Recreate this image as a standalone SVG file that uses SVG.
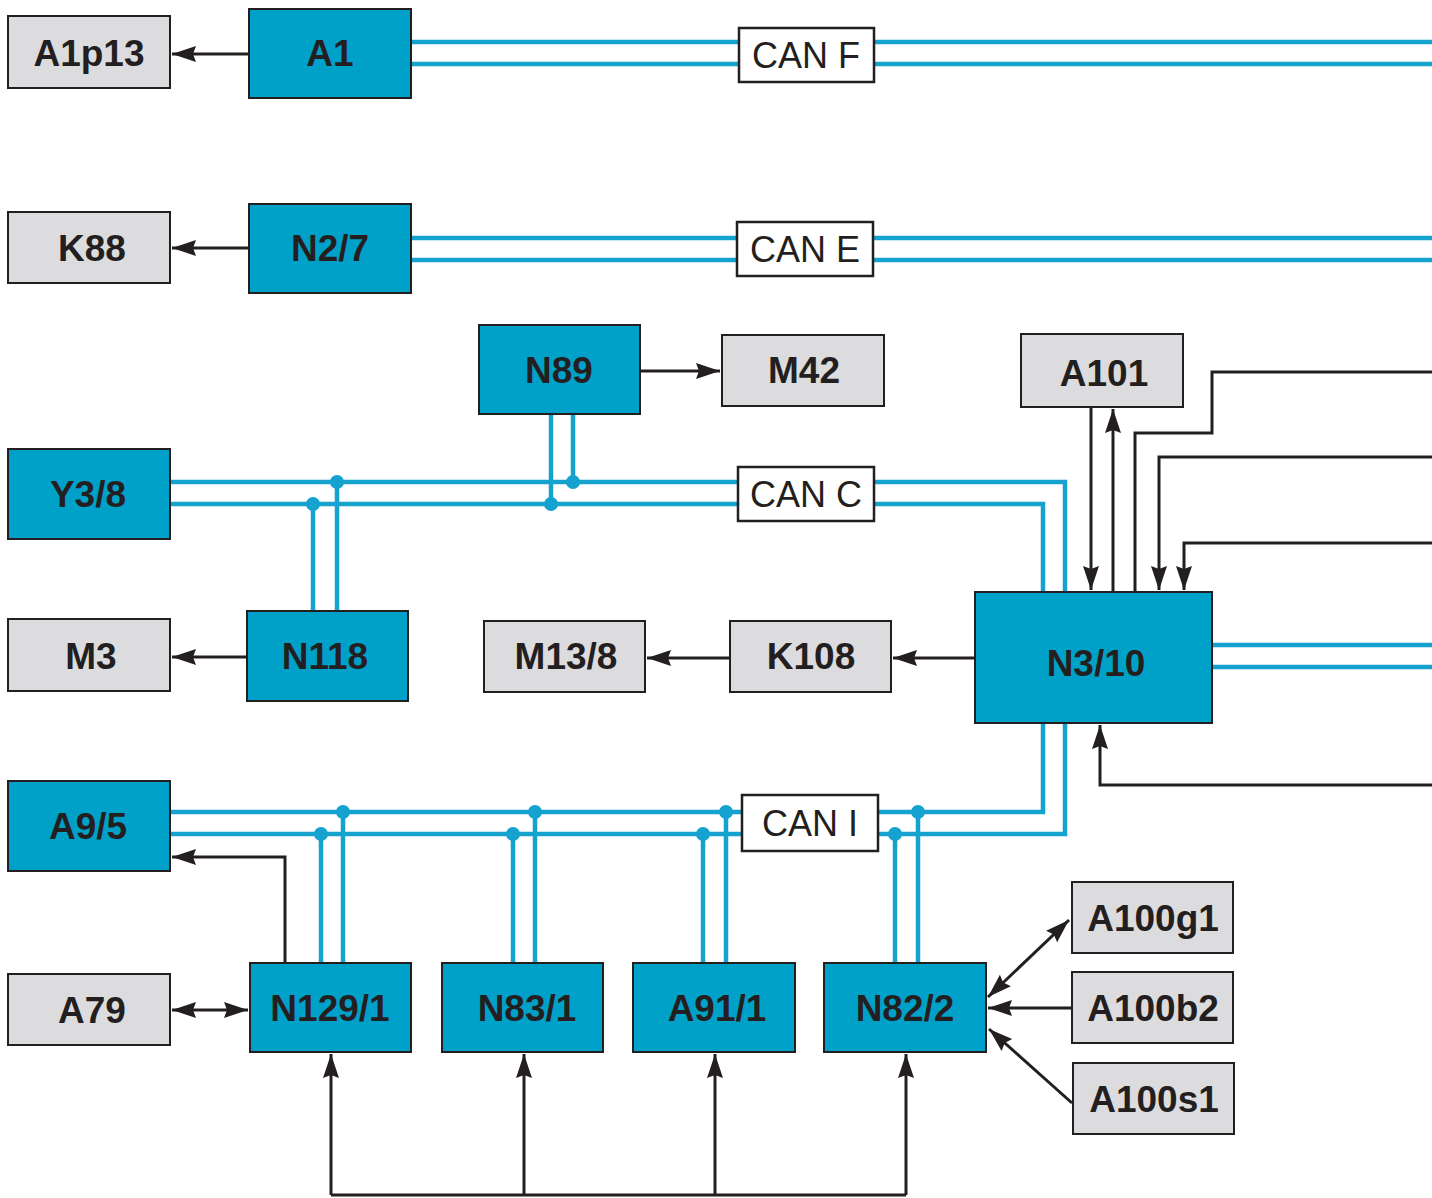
<svg xmlns="http://www.w3.org/2000/svg" width="1432" height="1198" viewBox="0 0 1432 1198">
<defs>
<style>
.bn{fill:#00a1c9;stroke:#231f20;stroke-width:2}
.gn{fill:#dcdcde;stroke:#231f20;stroke-width:2}
.cn{fill:#ffffff;stroke:#231f20;stroke-width:2.5}
.lb{font-family:"Liberation Sans",Arial,sans-serif;font-weight:bold;font-size:37px;fill:#231f20;text-anchor:middle}
.cl{font-family:"Liberation Sans",Arial,sans-serif;font-size:36px;fill:#231f20;text-anchor:middle}
.bus{fill:none;stroke:#16a2cf;stroke-width:4.5}
.w{fill:none;stroke:#231f20;stroke-width:3}
.dot{fill:#16a2cf}
</style>
<marker id="ah" markerUnits="userSpaceOnUse" markerWidth="26" markerHeight="18" refX="24" refY="8" orient="auto-start-reverse">
<path d="M0,0 L24,8 L0,16 L3,8 z" fill="#231f20"/>
</marker>
</defs>
<rect width="1432" height="1198" fill="#ffffff"/>
<g id="connectors">
<path class="bus" d="M411,42 H1432 M411,64 H1432"/>
<path class="bus" d="M411,238 H1432 M411,260 H1432"/>
<path class="bus" d="M170,482 H1065 V592 M170,504 H1043 V592"/>
<path class="bus" d="M551,414 V504 M573,414 V482"/>
<path class="bus" d="M313,504 V611 M337,482 V611"/>
<path class="bus" d="M1212,645 H1432 M1212,667 H1432"/>
<path class="bus" d="M170,812 H1043 V723 M170,834 H1065 V723"/>
<path class="bus" d="M321,834 V963 M343,812 V963 M513,834 V963 M535,812 V963 M703,834 V963 M726,812 V963 M895,834 V963 M918,812 V963"/>
<g class="dot">
<circle cx="313" cy="504" r="7"/><circle cx="337" cy="482" r="7"/>
<circle cx="551" cy="504" r="7"/><circle cx="573" cy="482" r="7"/>
<circle cx="321" cy="834" r="7"/><circle cx="343" cy="812" r="7"/>
<circle cx="513" cy="834" r="7"/><circle cx="535" cy="812" r="7"/>
<circle cx="703" cy="834" r="7"/><circle cx="726" cy="812" r="7"/>
<circle cx="895" cy="834" r="7"/><circle cx="918" cy="812" r="7"/>
</g>
<path class="w" d="M249,54 H172" marker-end="url(#ah)"/>
<path class="w" d="M249,248 H172" marker-end="url(#ah)"/>
<path class="w" d="M640,371 H720" marker-end="url(#ah)"/>
<path class="w" d="M247,657 H172" marker-end="url(#ah)"/>
<path class="w" d="M730,658 H647" marker-end="url(#ah)"/>
<path class="w" d="M975,658 H893" marker-end="url(#ah)"/>
<path class="w" d="M1091,407 V590" marker-end="url(#ah)"/>
<path class="w" d="M1113,592 V409" marker-end="url(#ah)"/>
<path class="w" d="M1135,592 V433 H1212 V372 H1432"/>
<path class="w" d="M1432,457 H1159 V590" marker-end="url(#ah)"/>
<path class="w" d="M1432,543 H1184 V590" marker-end="url(#ah)"/>
<path class="w" d="M1432,785 H1100 V725" marker-end="url(#ah)"/>
<path class="w" d="M285,963 V857 H172" marker-end="url(#ah)"/>
<path class="w" d="M172,1010 H248" marker-start="url(#ah)" marker-end="url(#ah)"/>
<path class="w" d="M1069,920 L988,997" marker-start="url(#ah)" marker-end="url(#ah)"/>
<path class="w" d="M1072,1008 H988" marker-end="url(#ah)"/>
<path class="w" d="M1072,1103 L989,1029" marker-end="url(#ah)"/>
<path class="w" d="M331,1195 H906"/>
<path class="w" d="M331,1195 V1054" marker-end="url(#ah)"/>
<path class="w" d="M524,1195 V1054" marker-end="url(#ah)"/>
<path class="w" d="M715,1195 V1054" marker-end="url(#ah)"/>
<path class="w" d="M906,1195 V1054" marker-end="url(#ah)"/>
</g>
<g id="can-f"><rect class="cn" x="739" y="28" width="135" height="54"/><text class="cl" x="806" y="68">CAN F</text></g>
<g id="can-e"><rect class="cn" x="737" y="222" width="136" height="54"/><text class="cl" x="805" y="262">CAN E</text></g>
<g id="can-c"><rect class="cn" x="738" y="467" width="136" height="54"/><text class="cl" x="806" y="507">CAN C</text></g>
<g id="can-i"><rect class="cn" x="742" y="795" width="136" height="56"/><text class="cl" x="810" y="836">CAN I</text></g>
<g id="A1p13"><rect class="gn" x="8" y="16" width="162" height="72"/><text class="lb" x="89" y="66">A1p13</text></g>
<g id="A1"><rect class="bn" x="249" y="9" width="162" height="89"/><text class="lb" x="330" y="66">A1</text></g>
<g id="K88"><rect class="gn" x="8" y="212" width="162" height="71"/><text class="lb" x="92" y="261">K88</text></g>
<g id="N2-7"><rect class="bn" x="249" y="204" width="162" height="89"/><text class="lb" x="330" y="261">N2/7</text></g>
<g id="N89"><rect class="bn" x="479" y="325" width="161" height="89"/><text class="lb" x="559" y="383">N89</text></g>
<g id="M42"><rect class="gn" x="722" y="335" width="162" height="71"/><text class="lb" x="804" y="383">M42</text></g>
<g id="A101"><rect class="gn" x="1021" y="334" width="162" height="73"/><text class="lb" x="1104" y="386">A101</text></g>
<g id="Y3-8"><rect class="bn" x="8" y="449" width="162" height="90"/><text class="lb" x="88" y="507">Y3/8</text></g>
<g id="M3"><rect class="gn" x="8" y="619" width="162" height="72"/><text class="lb" x="91" y="669">M3</text></g>
<g id="N118"><rect class="bn" x="247" y="611" width="161" height="90"/><text class="lb" x="325" y="669">N118</text></g>
<g id="M13-8"><rect class="gn" x="484" y="621" width="161" height="71"/><text class="lb" x="566" y="669">M13/8</text></g>
<g id="K108"><rect class="gn" x="730" y="621" width="161" height="71"/><text class="lb" x="811" y="669">K108</text></g>
<g id="N3-10"><rect class="bn" x="975" y="592" width="237" height="131"/><text class="lb" x="1096" y="676">N3/10</text></g>
<g id="A9-5"><rect class="bn" x="8" y="781" width="162" height="90"/><text class="lb" x="88" y="839">A9/5</text></g>
<g id="A79"><rect class="gn" x="8" y="974" width="162" height="71"/><text class="lb" x="92" y="1023">A79</text></g>
<g id="N129-1"><rect class="bn" x="250" y="963" width="161" height="89"/><text class="lb" x="330" y="1021">N129/1</text></g>
<g id="N83-1"><rect class="bn" x="442" y="963" width="161" height="89"/><text class="lb" x="527" y="1021">N83/1</text></g>
<g id="A91-1"><rect class="bn" x="633" y="963" width="162" height="89"/><text class="lb" x="717" y="1021">A91/1</text></g>
<g id="N82-2"><rect class="bn" x="824" y="963" width="162" height="89"/><text class="lb" x="905" y="1021">N82/2</text></g>
<g id="A100g1"><rect class="gn" x="1072" y="882" width="161" height="71"/><text class="lb" x="1153" y="931">A100g1</text></g>
<g id="A100b2"><rect class="gn" x="1072" y="972" width="161" height="71"/><text class="lb" x="1153" y="1021">A100b2</text></g>
<g id="A100s1"><rect class="gn" x="1073" y="1063" width="161" height="71"/><text class="lb" x="1154" y="1112">A100s1</text></g>
</svg>
